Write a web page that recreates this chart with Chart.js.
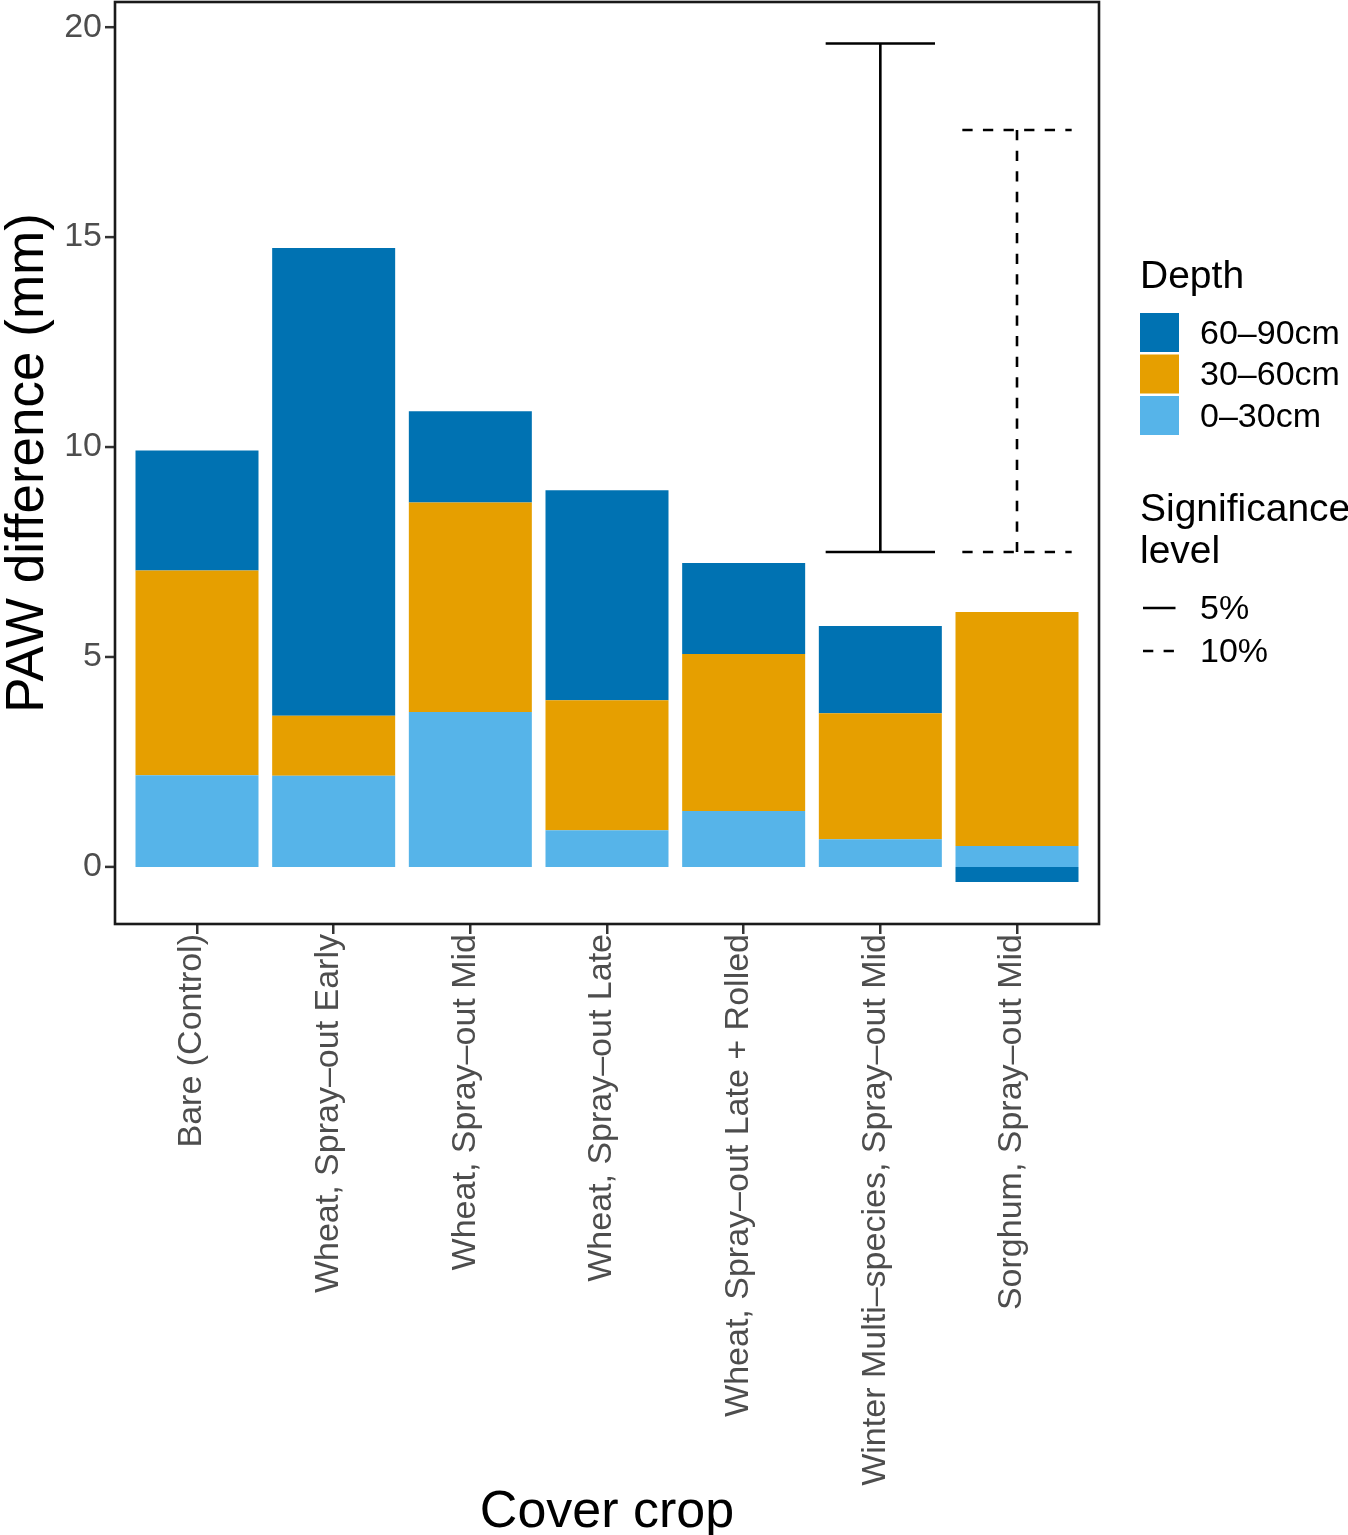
<!DOCTYPE html>
<html>
<head>
<meta charset="utf-8">
<title>PAW difference by cover crop</title>
<script src="https://cdn.jsdelivr.net/npm/chart.js@4.4.1/dist/chart.umd.min.js"></script>
<style>
  html, body { margin: 0; padding: 0; background: #ffffff; }
  canvas { display: block; }
</style>
</head>
<body>
<canvas id="chart" width="1348" height="1535"></canvas>
<script>
// Treatments along the x axis
const coverCrops = [
  'Bare (Control)',
  'Wheat, Spray–out Early',
  'Wheat, Spray–out Mid',
  'Wheat, Spray–out Late',
  'Wheat, Spray–out Late + Rolled',
  'Winter Multi–species, Spray–out Mid',
  'Sorghum, Spray–out Mid'
];

// Plant-available water difference (mm) per soil depth layer
const depth0to30  = [2.18, 2.17, 3.69, 0.87, 1.33, 0.66, 0.50];
const depth30to60 = [4.88, 1.43, 4.99, 3.10, 3.74, 3.00, 5.57];
const depth60to90 = [2.86, 11.14, 2.17, 5.00, 2.17, 2.08, -0.36];

const depthLabels = ['0–30cm', '30–60cm', '60–90cm'];
const depthColours = ['#56B4E9', '#E69F00', '#0072B2'];

// Significance intervals (which treatment, lower and upper bound, level)
const sigCategory = [6, 7];
const sigLower = [7.50, 7.50];
const sigUpper = [19.61, 17.55];
const sigLevel = ['5%', '10%'];
const sigLevels = ['5%', '10%'];

const yTickValues = [0, 5, 10, 15, 20];
const xTickValues = [1, 2, 3, 4, 5, 6, 7];

const FONT = "'Liberation Sans', Arial, Helvetica, sans-serif";
const DASH = [10.3, 10.3];
const TICK_LEN = 10;

function toPoints(values) {
  return values.map((v, i) => ({ x: i + 1, y: v }));
}

const datasets = depthLabels.map((label, i) => ({
  label: label,
  data: toPoints([depth0to30, depth30to60, depth60to90][i]),
  backgroundColor: depthColours[i],
  borderWidth: 0,
  barPercentage: 0.9,
  categoryPercentage: 1.0
}));

// Error-bar style intervals drawn through the chart scales
const intervalPlugin = {
  id: 'intervals',
  afterDatasetsDraw(chart) {
    const { ctx, scales: { x, y } } = chart;
    ctx.save();
    ctx.strokeStyle = '#000000';
    ctx.lineWidth = 2.6;
    ctx.lineCap = 'butt';
    sigCategory.forEach((c, i) => {
      ctx.setLineDash(sigLevel[i] === '10%' ? DASH : []);
      const xl = x.getPixelForValue(c - 0.4);
      const xr = x.getPixelForValue(c + 0.4);
      const xc = x.getPixelForValue(c);
      const yt = y.getPixelForValue(sigUpper[i]);
      const yb = y.getPixelForValue(sigLower[i]);
      const seg = (x1, y1, x2, y2) => {
        ctx.beginPath(); ctx.moveTo(x1, y1); ctx.lineTo(x2, y2); ctx.stroke();
      };
      seg(xl, yt, xr, yt);
      seg(xc, yt, xc, yb);
      seg(xl, yb, xr, yb);
    });
    ctx.restore();
  }
};

// Panel frame, y tick marks and the two legends on the right
const framePlugin = {
  id: 'frameAndLegend',
  afterDraw(chart) {
    const { ctx, chartArea: a, scales: { y } } = chart;
    ctx.save();
    ctx.strokeStyle = '#333333';
    ctx.lineWidth = 2.5;
    yTickValues.forEach(v => {
      const py = y.getPixelForValue(v);
      ctx.beginPath();
      ctx.moveTo(a.left - TICK_LEN, py);
      ctx.lineTo(a.left, py);
      ctx.stroke();
    });

    ctx.strokeStyle = '#1a1a1a';
    ctx.lineWidth = 2.6;
    ctx.setLineDash([]);
    ctx.strokeRect(a.left, a.top, a.right - a.left, a.bottom - a.top);

    const lx = 1140;
    ctx.fillStyle = '#000000';
    ctx.textAlign = 'left';
    ctx.textBaseline = 'alphabetic';

    // Depth legend
    ctx.font = '39px ' + FONT;
    ctx.fillText('Depth', lx, 288);
    const boxTop = [313, 354.5, 396];
    const order = [2, 1, 0];
    ctx.font = '34px ' + FONT;
    order.forEach((d, k) => {
      ctx.fillStyle = depthColours[d];
      ctx.fillRect(lx, boxTop[k], 39, 39);
      ctx.fillStyle = '#000000';
      ctx.textBaseline = 'middle';
      ctx.fillText(depthLabels[d], 1200, boxTop[k] + 21.5);
    });

    // Significance legend
    ctx.textBaseline = 'alphabetic';
    ctx.font = '39px ' + FONT;
    ctx.fillText('Significance', lx, 521);
    ctx.fillText('level', lx, 563);
    const rowY = [608, 651];
    ctx.font = '34px ' + FONT;
    sigLevels.forEach((lev, k) => {
      ctx.strokeStyle = '#000000';
      ctx.lineWidth = 2.6;
      ctx.setLineDash(lev === '10%' ? DASH : []);
      ctx.beginPath();
      ctx.moveTo(1143, rowY[k]);
      ctx.lineTo(1175.5, rowY[k]);
      ctx.stroke();
      ctx.setLineDash([]);
      ctx.textBaseline = 'middle';
      ctx.fillText(lev, 1200, rowY[k] + 2);
    });
    ctx.restore();
  }
};

new Chart(document.getElementById('chart'), {
  type: 'bar',
  data: { datasets: datasets },
  options: {
    responsive: false,
    animation: false,
    devicePixelRatio: 1,
    layout: { autoPadding: false, padding: { top: 2, right: 249, bottom: 0, left: 0 } },
    plugins: { legend: { display: false }, tooltip: { enabled: false } },
    scales: {
      x: {
        type: 'linear',
        stacked: true,
        offset: false,
        min: 0.4,
        max: 7.6,
        afterBuildTicks(scale) { scale.ticks = xTickValues.map(v => ({ value: v })); },
        afterFit(scale) {
          scale.height = 611;
          scale.paddingLeft = 0; scale.paddingRight = 0;
          scale.paddingTop = 0; scale.paddingBottom = 0;
        },
        border: { display: false },
        grid: { display: true, offset: false, drawOnChartArea: false, drawTicks: true, tickLength: TICK_LEN, color: '#333333', lineWidth: 2.5 },
        ticks: {
          autoSkip: false,
          minRotation: 90,
          maxRotation: 90,
          padding: 0,
          labelOffset: -5,
          color: '#4D4D4D',
          font: { family: FONT, size: 34 },
          callback: (value) => coverCrops[Math.round(value) - 1]
        },
        title: {
          display: true,
          text: 'Cover crop',
          color: '#000000',
          font: { family: FONT, size: 52, lineHeight: 0.86 },
          padding: { top: 0, bottom: 0 }
        }
      },
      y: {
        stacked: true,
        min: -1.36,
        max: 20.6,
        afterBuildTicks(scale) { scale.ticks = yTickValues.map(v => ({ value: v })); },
        afterFit(scale) {
          scale.width = 115;
          scale.paddingLeft = 0; scale.paddingRight = 0;
          scale.paddingTop = 0; scale.paddingBottom = 0;
        },
        border: { display: false },
        grid: { display: false },
        ticks: {
          padding: 5,
          color: '#4D4D4D',
          font: { family: FONT, size: 34 },
          callback: (value) => String(value)
        },
        title: {
          display: true,
          text: 'PAW difference (mm)',
          color: '#000000',
          font: { family: FONT, size: 53, lineHeight: 1.06 },
          padding: { top: 0, bottom: 0 }
        }
      }
    }
  },
  plugins: [intervalPlugin, framePlugin]
});
</script>
</body>
</html>
